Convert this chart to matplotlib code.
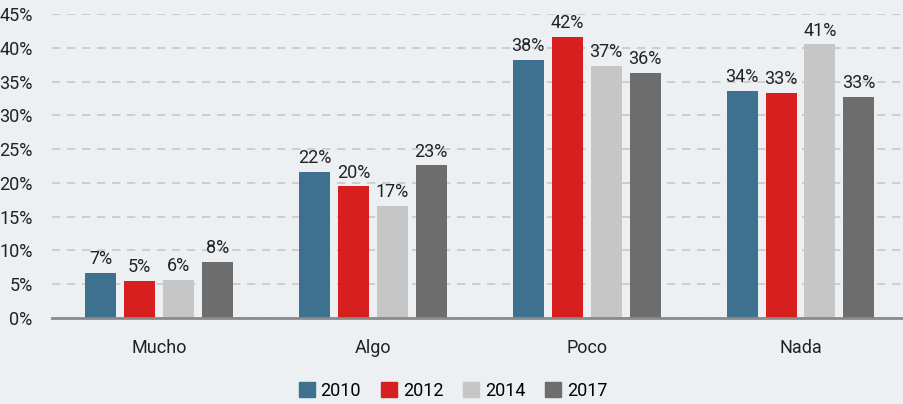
import matplotlib.pyplot as plt
import numpy as np
from matplotlib.patches import Patch

# data
categories = ['Mucho', 'Algo', 'Poco', 'Nada']
years = ['2010', '2012', '2014', '2017']
v2010 = [6.7, 21.6, 38.2, 33.6]
v2012 = [5.5, 19.5, 41.6, 33.3]
v2014 = [5.6, 16.6, 37.3, 40.5]
v2017 = [8.3, 22.6, 36.3, 32.7]
labels2010 = ['7%', '22%', '38%', '34%']
labels2012 = ['5%', '20%', '42%', '33%']
labels2014 = ['6%', '17%', '37%', '41%']
labels2017 = ['8%', '23%', '36%', '33%']

colors = ['#3E718F', '#D71F1F', '#C6C6C6', '#6D6D6D']
bg = '#ECF0F3'

plt.rcParams['font.family'] = ['Roboto', 'DejaVu Sans']

fig = plt.figure(figsize=(9.04, 4.04), dpi=100, facecolor=bg)
ax = fig.add_axes([52 / 904, 86 / 404, 1 - 52 / 904, 304 / 404])
ax.set_facecolor(bg)

x = np.arange(len(categories))
width = 0.145
step = 0.182
series = [v2010, v2012, v2014, v2017]
texts = [labels2010, labels2012, labels2014, labels2017]
for i, (vals, labs) in enumerate(zip(series, texts)):
    pos = x + (i - 1.5) * step
    bars = ax.bar(pos, vals, width, color=colors[i], zorder=3)
    for b, t in zip(bars, labs):
        ax.text(b.get_x() + b.get_width() / 2, b.get_height() + 0.7, t,
                ha='center', va='bottom', fontsize=13, color='#222222',
                clip_on=False)

ax.set_xlim(-0.5, 3.484)
ax.set_ylim(0, 45)
ax.set_yticks(range(0, 46, 5))
ax.set_yticklabels([f'{t}%' for t in range(0, 46, 5)])
ax.set_xticks(x)
ax.set_xticklabels(categories)
ax.tick_params(axis='y', length=0, pad=14, labelsize=13, labelcolor='#222222')
ax.tick_params(axis='x', length=0, pad=15, labelsize=13, labelcolor='#222222')
ax.yaxis.grid(True, linestyle=(0, (5, 4)), color='#C8C8C8', linewidth=1.2, zorder=0)
for s in ['top', 'right', 'left']:
    ax.spines[s].set_visible(False)
ax.spines['bottom'].set_color('#8A8A8A')
ax.spines['bottom'].set_linewidth(2)
ax.spines['bottom'].set_zorder(4)

handles = [Patch(color=c, label=y) for c, y in zip(colors, years)]
fig.legend(handles=handles, loc='center', bbox_to_anchor=(453 / 904, 1 - 391 / 404),
           ncol=4, frameon=False, fontsize=13, handlelength=0.9, handleheight=0.9,
           handletextpad=0.3, columnspacing=1.1)

fig.savefig('out.png', dpi=100, facecolor=bg)
